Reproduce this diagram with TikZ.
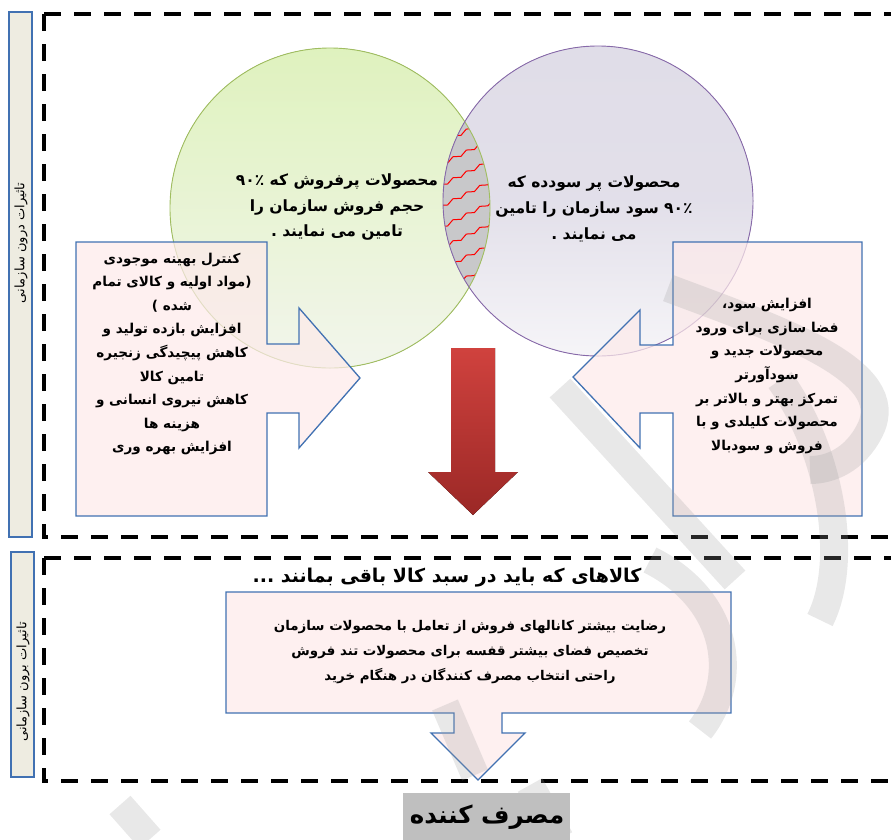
\documentclass[tikz,border=0pt]{standalone}
\usepackage{fontspec}
\newfontfamily\fa[Script=Arabic]{DejaVu Sans}
\TeXXeTstate=1
\usetikzlibrary{decorations.pathmorphing}
\newcommand\rtlline[1]{\beginR#1\endR}
\newcommand\digits[1]{\beginL#1\endL{}}

\definecolor{boxblue}{RGB}{65,113,178}
\definecolor{pinkfill}{RGB}{253,234,234}
\definecolor{labelfill}{RGB}{238,236,225}
\definecolor{greenedge}{RGB}{160,190,95}
\definecolor{purpleedge}{RGB}{135,105,170}
\definecolor{greentop}{RGB}{223,242,190}
\definecolor{greenbot}{RGB}{242,245,236}
\definecolor{purptop}{RGB}{224,221,232}
\definecolor{purpbot}{RGB}{246,245,248}
\definecolor{lensgray}{RGB}{200,200,202}
\definecolor{arrowtop}{RGB}{208,66,62}
\definecolor{arrowbot}{RGB}{155,40,38}
\definecolor{markgray}{RGB}{160,160,160}
\definecolor{consumer}{RGB}{191,191,191}

\tikzset{
  zone/.style={draw=black, line width=3.8pt, dash pattern=on 17pt off 13pt},
  sidelabel/.style={draw=boxblue, fill=labelfill, line width=1.2pt},
  sidetext/.style={rotate=90, inner sep=0pt, font=\fa\fontsize{13}{14}\selectfont},
  blockarrow/.style={draw=boxblue, line width=1.3pt, fill=pinkfill, fill opacity=0.72},
  bodytext/.style={align=center, inner sep=0pt, font=\fa\bfseries\fontsize{13.6}{23.6}\selectfont},
  circletext/.style={align=center, inner sep=0pt, font=\fa\bfseries\fontsize{15.5}{25.8}\selectfont},
  watermark/.style={draw=markgray, line width=28pt, opacity=0.24, line cap=butt},
}

\begin{document}
\begin{tikzpicture}[x=1pt, y=-1pt]
\useasboundingbox (0,0) rectangle (891,839);

% side labels
\draw[sidelabel] (9,12) rectangle (32,537);
\draw[sidelabel] (11,552) rectangle (34,777);
\node[sidetext] (inner) at (21,243) {\rtlline{تاثیرات درون سازمانی}};
\node[sidetext] (outer) at (23,682) {\rtlline{تاثیرات برون سازمانی}};

% two zones
\draw[zone] (44,14) -- (44,537) -- (900,537);
\draw[zone] (44,14) -- (900,14);
\draw[zone] (44,558) -- (44,781) -- (900,781);
\draw[zone] (44,558) -- (900,558);

% circles
\fill[top color=greentop, bottom color=greenbot] (330,208) circle[radius=160];
\fill[top color=purptop, bottom color=purpbot, middle color=purptop!90!purpbot] (598,201) circle[radius=155];
\begin{scope}
  \clip (330,208) circle[radius=160];
  \clip (598,201) circle[radius=155];
  \fill[lensgray] (400,30) rectangle (520,400);
  \foreach \yy in {80,101,...,380}
    \draw[red, line width=1pt, decorate, decoration={snake, amplitude=1.6pt, segment length=15pt}]
      (436,\yy+24) -- (500,\yy-8);
\end{scope}
\draw[greenedge, line width=0.9pt] (330,208) circle[radius=160];
\draw[purpleedge, line width=0.9pt] (598,201) circle[radius=155];

% red arrow
\fill[top color=arrowtop, bottom color=arrowbot]
  (451,348) -- (495,348) -- (495,472) -- (518,472) -- (473,515) -- (428,472) -- (451,472) -- cycle;

% block arrows
\draw[blockarrow] (76,242) -- (267,242) -- (267,344) -- (299,344) -- (299,308) -- (360,378)
  -- (299,448) -- (299,413) -- (267,413) -- (267,516) -- (76,516) -- cycle;
\draw[blockarrow] (862,242) -- (673,242) -- (673,345) -- (640,345) -- (640,310) -- (573,377)
  -- (640,448) -- (640,413) -- (673,413) -- (673,516) -- (862,516) -- cycle;
\draw[blockarrow] (226,592) -- (731,592) -- (731,713) -- (502,713) -- (502,733) -- (525,733)
  -- (478,780) -- (431,733) -- (454,733) -- (454,713) -- (226,713) -- cycle;

% background mark
\draw[watermark] (560,388) -- (735,580);
\draw[watermark] (668,288) .. controls (780,330) and (900,370) .. (870,430) .. controls (855,460) and (830,470) .. (810,470);
\draw[watermark] (780,380) .. controls (830,450) and (850,560) .. (820,620);
\draw[watermark] (650,560) .. controls (730,600) and (740,680) .. (700,730);
\draw[watermark] (445,705) -- (475,775);
\draw[watermark] (530,785) -- (560,839);
\draw[watermark] (120,805) -- (150,839);

% texts in the circles
\node[circletext] (popular) at (337,207) {%
  \rtlline{محصولات پرفروش که \digits{۹۰٪}}\\
  \rtlline{حجم فروش سازمان را}\\
  \rtlline{تامین می نمایند .}};
\node[circletext] (profitable) at (594,209) {%
  \rtlline{محصولات پر سودده که}\\
  \rtlline{\digits{۹۰٪} سود سازمان را تامین}\\
  \rtlline{می نمایند .}};

% texts in the block arrows
\node[bodytext] (leftlist) at (172,354) {%
  \rtlline{کنترل بهینه موجودی}\\
  \rtlline{(مواد اولیه و کالای تمام}\\
  \rtlline{شده )}\\
  \rtlline{افزایش بازده تولید و}\\
  \rtlline{کاهش پیچیدگی زنجیره}\\
  \rtlline{تامین کالا}\\
  \rtlline{کاهش نیروی انسانی و}\\
  \rtlline{هزینه ها}\\
  \rtlline{افزایش بهره وری}};
\node[bodytext] (rightlist) at (767,376) {%
  \rtlline{افزایش سود،}\\
  \rtlline{فضا سازی برای ورود}\\
  \rtlline{محصولات جدید و}\\
  \rtlline{سودآورتر}\\
  \rtlline{تمرکز بهتر و بالاتر بر}\\
  \rtlline{محصولات کلیلدی و با}\\
  \rtlline{فروش و سودبالا}};

% outer zone
\node[font=\fa\bfseries\fontsize{19}{22}\selectfont, inner sep=0pt] (title) at (447,578)
  {\rtlline{کالاهای که باید در سبد کالا باقی بمانند ...}};
\node[bodytext, font=\fa\bfseries\fontsize{13.4}{25}\selectfont] (bottomlist) at (470,652) {%
  \rtlline{رضایت بیشتر کانالهای فروش از تعامل با محصولات سازمان}\\
  \rtlline{تخصیص فضای بیشتر قفسه برای محصولات تند فروش}\\
  \rtlline{راحتی انتخاب مصرف کنندگان در هنگام خرید}};

% consumer
\fill[consumer] (403,793) rectangle (570,845);
\node[font=\fa\bfseries\fontsize{24.5}{26}\selectfont, inner sep=0pt] (consumer) at (487,817)
  {\rtlline{مصرف کننده}};
\end{tikzpicture}
\end{document}
